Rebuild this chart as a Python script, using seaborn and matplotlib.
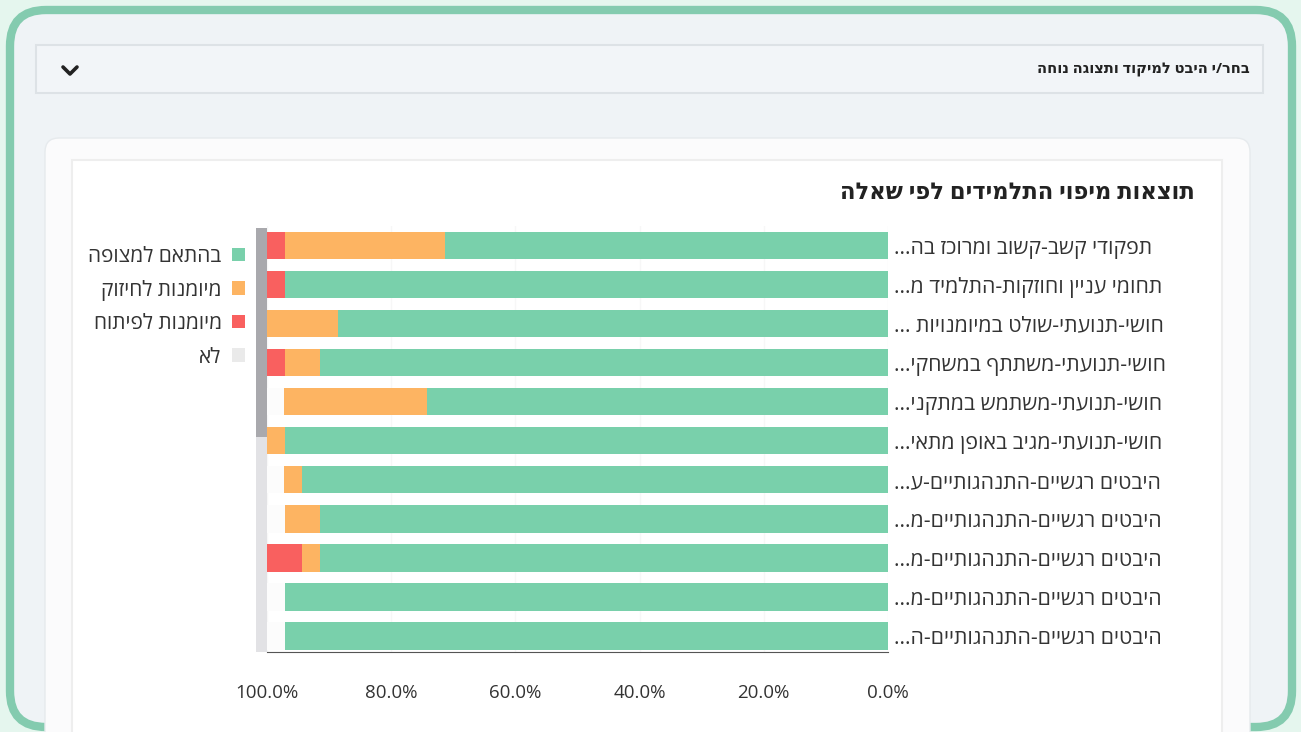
import numpy as np
import pandas as pd
import matplotlib
matplotlib.use('Agg')
import matplotlib.pyplot as plt
import seaborn as sns
from matplotlib.patches import FancyBboxPatch, Rectangle

# data (percent of students)
questions = [
    'תפקודי קשב-קשוב ומרוכז בה...',
    'תחומי עניין וחוזקות-התלמיד מ...',
    'חושי-תנועתי-שולט במיומנויות ...',
    'חושי-תנועתי-משתתף במשחקי...',
    'חושי-תנועתי-משתמש במתקני...',
    'חושי-תנועתי-מגיב באופן מתאי...',
    'היבטים רגשיים-התנהגותיים-ע...',
    'היבטים רגשיים-התנהגותיים-מ...',
    'היבטים רגשיים-התנהגותיים-מ...',
    'היבטים רגשיים-התנהגותיים-מ...',
    'היבטים רגשיים-התנהגותיים-ה...',
]
as_expected = [71.4, 97.1, 88.6, 91.4, 74.3, 97.1, 94.3, 91.4, 91.4, 97.1, 97.1]
to_strengthen = [25.7, 0, 11.4, 5.7, 22.9, 2.9, 2.9, 5.7, 2.9, 0, 0]
to_develop = [2.9, 2.9, 0, 2.9, 0, 0, 0, 0, 5.7, 0, 0]
no_answer = [0, 0, 0, 0, 2.9, 0, 2.9, 2.9, 0, 2.9, 2.9]

series_names = ['בהתאם למצופה', 'מיומנות לחיזוק', 'מיומנות לפיתוח', 'לא']
series_colors = ['#79d0ab', '#fdb462', '#f9605f', '#fcfcfc']
title = 'תוצאות מיפוי התלמידים לפי שאלה'
dropdown_text = 'בחר/י היבט למיקוד ותצוגה נוחה'
x_ticks = [0, 20, 40, 60, 80, 100]


def heb(s):
    # matplotlib has no bidi support: reverse to visual order
    return s[::-1]


sns.set_style('white')
plt.rcParams['font.family'] = ['Open Sans', 'DejaVu Sans']

df = pd.DataFrame({'row': [str(i) for i in range(len(questions))],
                   'green': as_expected, 'orange': to_strengthen,
                   'red': to_develop, 'no': no_answer})
df['c1'] = df['green']
df['c2'] = df['c1'] + df['orange']
df['c3'] = df['c2'] + df['red']
df['c4'] = df['c3'] + df['no']

W, H = 1301, 732
fig = plt.figure(figsize=(W / 100, H / 100), dpi=100)
fig.patch.set_facecolor('#e5f6ee')

# background UI (pixel coordinates)
bg = fig.add_axes([0, 0, 1, 1], zorder=-5)
bg.set_xlim(0, W)
bg.set_ylim(H, 0)
bg.axis('off')
bg.add_patch(FancyBboxPatch((10, 10), 1282, 717, boxstyle='round,pad=0,rounding_size=36',
                            facecolor='#eff3f6', edgecolor='#84cbaf', linewidth=6))
bg.add_patch(Rectangle((36, 45), 1227, 48, facecolor='#f2f5f8', edgecolor='#dde2e6', linewidth=1.5))
bg.plot([63, 70, 77], [67, 74, 67], color='#222222', lw=2.6, solid_capstyle='round')
bg.text(1250, 70, heb(dropdown_text), ha='right', va='center', fontsize=10.5, fontweight='bold', color='#222222')
bg.add_patch(FancyBboxPatch((45, 138), 1205, 640, boxstyle='round,pad=0,rounding_size=14',
                            facecolor='#fbfbfc', edgecolor='#e6eaed', linewidth=1))
bg.add_patch(Rectangle((72, 160), 1150, 620, facecolor='white', edgecolor='#eeeeee', linewidth=1.5))
bg.text(1195, 193, heb(title), ha='right', va='center', fontsize=16.3, fontweight='bold', color='#222222')
# legend scrollbar
bg.add_patch(Rectangle((256, 228), 11, 424, facecolor='#e2e2e5', edgecolor='none'))
bg.add_patch(Rectangle((256, 228), 11, 209, facecolor='#a9a9ad', edgecolor='none'))

# chart
ax = fig.add_axes([267 / W, 1 - 652 / H, (888 - 267) / W, (652 - 226) / H])
order = list(df['row'])
for col, color in zip(['c4', 'c3', 'c2', 'c1'], series_colors[::-1]):
    sns.barplot(data=df, x=col, y='row', order=order, orient='h', color=color,
                saturation=1, width=0.7, ax=ax, edgecolor='none', linewidth=0)
ax.set_xlim(100, 0)
ax.set_ylim(10.41, -0.5)
ax.set_xticks(x_ticks)
ax.set_xticklabels([f'{t:.1f}%' for t in x_ticks], fontsize=13.5, color='#333333')
ax.tick_params(axis='x', length=7, width=1, color='#555555', pad=16)
ax.yaxis.tick_right()
ax.set_yticks(range(len(questions)))
ax.set_yticklabels([heb(q) for q in questions], fontsize=15.3, color='#333333', ha='left')
ax.tick_params(axis='y', length=0, pad=4)
ax.set_xlabel('')
ax.set_ylabel('')
ax.grid(axis='x', color='#f7f7f7', lw=1)
ax.set_axisbelow(True)
for s in ['top', 'left', 'right']:
    ax.spines[s].set_visible(False)
ax.spines['bottom'].set_color('#555555')
ax.patch.set_alpha(0)

handles = [Rectangle((0, 0), 1, 1, facecolor=c, edgecolor='none') for c in series_colors[:3]]
handles.append(Rectangle((0, 0), 1, 1, facecolor='#eaeaea', edgecolor='none'))
fig.legend(handles, [heb(n) for n in series_names], loc='upper right',
           bbox_to_anchor=(245 / W, 1 - 246 / H), frameon=False, markerfirst=False,
           fontsize=15, handlelength=0.62, handleheight=0.62, labelspacing=0.6,
           handletextpad=0.5, borderpad=0, borderaxespad=0, labelcolor='#333333')

fig.savefig('out.png', dpi=100, facecolor=fig.get_facecolor())
